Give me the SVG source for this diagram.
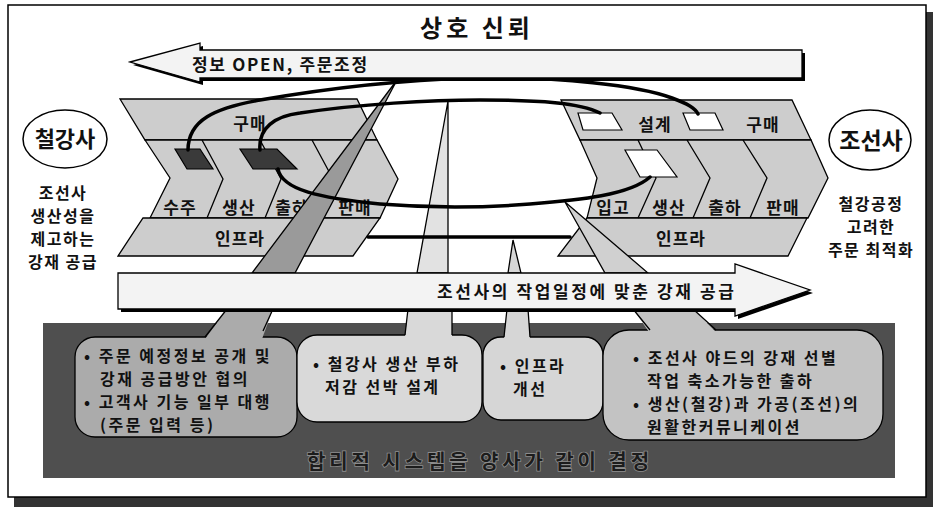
<svg xmlns="http://www.w3.org/2000/svg" width="933" height="507" viewBox="0 0 933 507">
<style>
text{font-family:"Noto Sans CJK KR","Noto Sans",sans-serif;font-weight:bold;fill:#111}
.chain{fill:#cdcdcd;stroke:#000;stroke-width:1.3;stroke-linejoin:miter}
.div{fill:none;stroke:#000;stroke-width:1.3}
.dark{fill:#3a3a3a;stroke:#000;stroke-width:1.2}
.white{fill:#fff;stroke:#000;stroke-width:1.2}
.arc{fill:none;stroke:#000;stroke-width:3.5;stroke-linecap:round}
.lbl{font-size:17px;text-anchor:middle;letter-spacing:1px}
.co{font-size:16px;letter-spacing:2.5px}
.side{font-size:16px;text-anchor:middle;letter-spacing:1.5px}
.edge{stroke:#000;stroke-width:1.3;fill:none}
.callout{stroke:#000;stroke-width:1.3}
</style>

<!-- frame -->
<rect x="14" y="12" width="919" height="495" fill="#333"/>
<rect x="8" y="5" width="918" height="492" fill="#fff" stroke="#000" stroke-width="1.5"/>

<g id="title"><text x="477" y="37" font-size="24" text-anchor="middle" letter-spacing="4">상호 신뢰</text></g>

<!-- bottom band -->
<g id="decision-band">
<rect x="43" y="323" width="852" height="155" fill="#4f4f4f"/>
<text x="307" y="469" font-size="20" letter-spacing="3.9" style="fill:#1c1c1c;stroke:#8c8c8c;stroke-width:1.6;paint-order:stroke">합리적 시스템을 양사가 같이 결정</text>
</g>

<g id="callout-1">
<rect class="callout" x="75" y="337" width="222" height="100" rx="20" fill="#ababab"/>
<text class="co" x="84" y="362">• 주문 예정정보 공개 및</text>
<text class="co" x="100" y="385">강재 공급방안 협의</text>
<text class="co" x="84" y="408">• 고객사 기능 일부 대행</text>
<text class="co" x="100" y="431">(주문 입력 등)</text>
</g>
<g id="callout-2">
<rect class="callout" x="297" y="335" width="185" height="87" rx="20" fill="#d9d9d9"/>
<text class="co" x="313" y="370">• 철강사 생산 부하</text>
<text class="co" x="325" y="393">저감 선박 설계</text>
</g>
<g id="callout-3">
<rect class="callout" x="483" y="337" width="120" height="83" rx="18" fill="#d6d6d6"/>
<text class="co" x="500" y="372">• 인프라</text>
<text class="co" x="513" y="395">개선</text>
</g>
<g id="callout-4">
<rect class="callout" x="603" y="330" width="280" height="110" rx="26" fill="#c3c3c3"/>
<text class="co" x="633" y="364">• 조선사 야드의 강재 선별</text>
<text class="co" x="647" y="387">작업 축소가능한 출하</text>
<text class="co" x="633" y="410">• 생산(철강)과 가공(조선)의</text>
<text class="co" x="647" y="433">원활한커뮤니케이션</text>
</g>

<!-- pointer stems below the arrow -->
<g id="pointers-lower">
<polygon points="227,309 273,309 262,339 205,339" fill="#ababab"/>
<path class="edge" d="M227,309 L205,337 M273,309 L263,331"/>
<polygon points="408,309 452,309 452,337 405,337" fill="#d9d9d9"/>
<path class="edge" d="M408,309 L405,335 M452,309 L452,335"/>
<polygon points="507,309 528,309 530,339 504,339" fill="#d6d6d6"/>
<path class="edge" d="M507,309 L504,337 M528,309 L530,337"/>
<polygon points="633,309 693,309 716,332 649,332" fill="#c3c3c3"/>
<path class="edge" d="M633,309 L650,330 M693,309 L716,330"/>
</g>

<!-- steel company value chain -->
<g id="steel-chain">
<polygon class="chain" points="120,99 357,99 377,140 145,140"/>
<polygon class="chain" points="145,140 377,140 398,179 380,218 150,218 170,178"/>
<polygon class="chain" points="143,218 380,218 353,256 118,256"/>
<polyline class="div" points="202,140 223,179 207,218"/>
<polyline class="div" points="260,140 281,179 265,218"/>
<polyline class="div" points="312,140 333,179 320,218"/>
<text class="lbl" x="250" y="130">구매</text>
<text class="lbl" x="180" y="214">수주</text>
<text class="lbl" x="239" y="214">생산</text>
<text class="lbl" x="292" y="214">출하</text>
<text class="lbl" x="355" y="214">판매</text>
<text class="lbl" x="240" y="245">인프라</text>
<polygon class="dark" points="175,149 200,149 213,169 187,169"/>
<polygon class="dark" points="240,149 277,149 297,169 253,169"/>
</g>

<!-- shipbuilder value chain -->
<g id="ship-chain">
<polygon class="chain" points="561,100 792,100 811,140 580,140"/>
<polygon class="chain" points="580,140 811,140 828,178 808,218 587,218 597,178"/>
<polygon class="chain" points="587,218 807,218 788,256 558,256"/>
<polyline class="div" points="638,140 656,178 638,218"/>
<polyline class="div" points="687,140 710,178 693,218"/>
<polyline class="div" points="743,140 767,178 750,218"/>
<text class="lbl" x="655" y="131">설계</text>
<text class="lbl" x="763" y="131">구매</text>
<text class="lbl" x="613" y="214">입고</text>
<text class="lbl" x="669" y="214">생산</text>
<text class="lbl" x="725" y="214">출하</text>
<text class="lbl" x="783" y="214">판매</text>
<text class="lbl" x="681" y="245">인프라</text>
<polygon class="white" points="578,113 612,113 622,130 583,130"/>
<polygon class="white" points="683,113 715,113 723,130 690,130"/>
<polygon class="white" points="625,150 657,150 677,177 640,177"/>
</g>

<!-- pointer wedges above the arrow -->
<g id="pointers-upper">
<polygon points="397,80 295,273 252,273" fill="#9a9a9a" stroke="#000" stroke-width="1.3"/>
<polygon points="448,101 448,273 417,273" fill="#e2e2e2" stroke="#000" stroke-width="1.3"/>
<polygon points="513,240 521,273 508,273" fill="#d6d6d6" stroke="#000" stroke-width="1.3"/>
<polygon points="565,202 648,273 605,273" fill="#d0d0d0" stroke="#000" stroke-width="1.3"/>
</g>

<g id="connectors">
<path class="arc" d="M188,150 C188,120 215,108 260,100 C330,88 400,80 470,78 C560,76 640,86 672,98 C688,104 695,108 698,114"/>
<path class="arc" d="M260,150 C258,128 275,116 300,113 C360,104 430,100 480,100 C540,100 580,103 600,113"/>
<path class="arc" d="M278,169 C282,190 320,198 380,204 C430,208 480,208 530,204 C580,200 630,195 650,177"/>
<path class="arc" d="M368,237 H570"/>
</g>

<g id="arrow-info">
<polygon points="133,65 203,46 203,53 805,53 805,81 203,81 203,85" fill="#000"/>
<polygon points="130,62 200,43 200,50 802,50 802,78 200,78 200,82" fill="#f3f3f3" stroke="#000" stroke-width="1.3"/>
<text x="192" y="71" font-size="17" letter-spacing="1.7">정보 OPEN, 주문조정</text>
</g>

<g id="arrow-supply">
<polygon points="121,276 738,276 738,267 813,293 738,319 738,312 121,312" fill="#000"/>
<polygon points="118,273 735,273 735,264 810,290 735,316 735,309 118,309" fill="#f3f3f3" stroke="#000" stroke-width="1.3"/>
<text x="437" y="298" font-size="17" letter-spacing="2.6">조선사의 작업일정에 맞춘 강재 공급</text>
</g>

<g id="steel-company">
<ellipse cx="65" cy="139" rx="42" ry="29" fill="#fff" stroke="#000" stroke-width="1.5"/>
<text x="65" y="147" font-size="22" text-anchor="middle">철강사</text>
<text class="side" x="63" y="199">조선사</text>
<text class="side" x="63" y="222">생산성을</text>
<text class="side" x="63" y="245">제고하는</text>
<text class="side" x="63" y="268">강재 공급</text>
</g>

<g id="shipbuilder">
<ellipse cx="870" cy="140" rx="41" ry="30" fill="#fff" stroke="#000" stroke-width="1.5"/>
<text x="871" y="149" font-size="23" text-anchor="middle">조선사</text>
<text class="side" x="871" y="210">철강공정</text>
<text class="side" x="871" y="233">고려한</text>
<text class="side" x="871" y="256">주문 최적화</text>
</g>
</svg>
